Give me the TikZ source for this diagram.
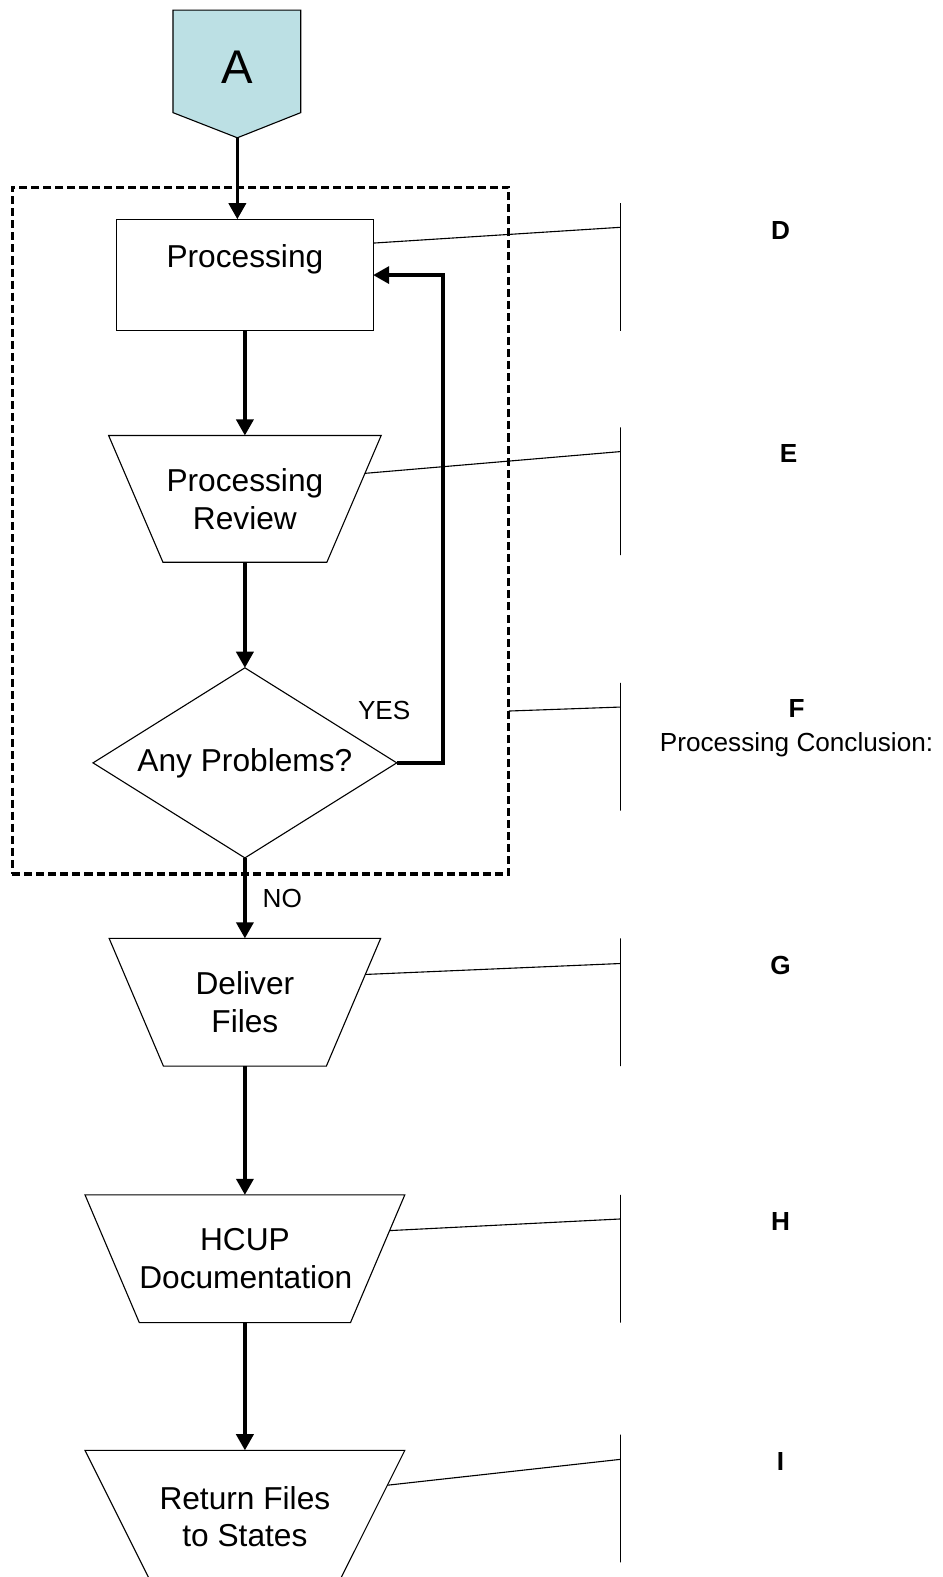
\documentclass[tikz,border=0pt]{standalone}
\usepackage{fontspec}
\setmainfont{Liberation Sans}
\usetikzlibrary{arrows.meta,shapes.geometric,positioning}
\definecolor{offpage}{RGB}{188,224,228}
\tikzstyle{every picture}+=[
  x=1pt,y=-1pt,
  bignode/.style={font=\fontsize{31.5}{37.5}\selectfont,align=center,inner sep=0pt,outer sep=0pt,line width=1.1pt},
  boxnode/.style={bignode,draw,shape=rectangle,minimum width=255pt,minimum height=111pt},
  trapnode/.style={font=\fontsize{31.5}{37.5}\selectfont,inner sep=0pt,outer sep=0pt,line width=1.1pt,draw,shape=trapezium,shape border rotate=180},
  asknode/.style={bignode,draw,shape=diamond,aspect=1.6,minimum width=302pt,minimum height=189pt},
  groupnode/.style={draw,shape=rectangle,line width=3pt,dash pattern=on 8pt off 4pt,minimum width=494pt,minimum height=683pt,outer sep=0pt},
  barnode/.style={draw,shape=rectangle,line width=1.1pt,minimum width=0pt,minimum height=127pt,inner sep=0pt},
  letter/.style={font=\bfseries\fontsize{26}{33}\selectfont,align=center,inner sep=0pt},
  small/.style={font=\fontsize{26}{31}\selectfont,inner sep=0pt},
  flow/.style={line width=3.4pt,-{Triangle[length=16pt,width=17pt]}},
  note/.style={line width=1.1pt}
]
\newcommand*{\traptext}[3]{\parbox[c][#1][c]{#2}{\centering #3}}
\def\barx{617}

\begin{document}
\begin{tikzpicture}
      \useasboundingbox (0,0) rectangle (937,1568);
      % off page connector
      \draw[fill=offpage,line width=1.1pt] (172,10) -- (299,10) -- (299,112) -- (236,137) -- (172,112) -- cycle;
      \node[font=\fontsize{47}{56}\selectfont,inner sep=0pt] (A) at (236,67) {A};
      \coordinate (Atip) at (236,137);
      %
      \node[style=groupnode] (grp) at (259,527.5) {};
      \node[style=boxnode] (proc) at (243.5,273.5) {Processing\\\mbox{}};
      \node[style=trapnode,trapezium angle=66.8,below = 104pt of proc] (rev) {\traptext{126pt}{163pt}{Processing\\Review}};
      \node[style=asknode,below = 105pt of rev] (prob) {Any Problems?};
      \node[style=trapnode,trapezium angle=66.97,below = 80pt of prob] (del) {\traptext{127pt}{162pt}{Deliver\\Files}};
      \node[style=trapnode,trapezium angle=66.97,below = 128pt of del] (doc) {\traptext{127pt}{210pt}{HCUP\\Documentation}};
      \node[style=trapnode,trapezium angle=63.43,below = 127pt of doc] (ret) {\traptext{140pt}{178pt}{\vspace*{-8pt}Return Files\\to States}};
      %
      \path [draw, flow] (Atip) to (Atip |- proc.north);
      \path [draw, flow] (proc.south) to (rev.north);
      \path [draw, flow] (rev.south) to (prob.north);
      \path [draw, flow] (prob.south) to node[style=small,right = 16pt] (no) {NO} (del.north);
      \path [draw, flow] (prob.east) -- ++(46,0) |- (proc.east);
      \path [draw, flow] (del.south) to (doc.north);
      \path [draw, flow] (doc.south) to (ret.north);
      \node[style=small] (yes) at (382,706) {YES};
      %
      \node[style=barnode] (bD) at (\barx,265.5) {};
      \node[style=barnode] (bE) at (\barx,488.5) {};
      \node[style=barnode] (bF) at (\barx,742.5) {};
      \node[style=barnode] (bG) at (\barx,996.5) {};
      \node[style=barnode] (bH) at (\barx,1251.5) {};
      \node[style=barnode] (bI) at (\barx,1490) {};
      \coordinate (tD) at (\barx,226);
      \coordinate (tE) at (\barx,449);
      \coordinate (tF) at (\barx,703);
      \coordinate (tG) at (\barx,958);
      \coordinate (tH) at (\barx,1212);
      \coordinate (tI) at (\barx,1451);
      %
      \path [draw, note] (proc.14) to (tD);
      \path [draw, note] (rev.12) to (tE);
      \path [draw, note] (grp.-36.2) to (tF);
      \path [draw, note] (del.13) to (tG);
      \path [draw, note] (doc.11) to (tH);
      \path [draw, note] (ret.14) to (tI);
      %
      \node[style=letter] (D) at (776,229) {D};
      \node[style=letter] (E) at (784,451) {E};
      \node[style=letter] (F) at (792,724) {F\\{\mdseries Processing Conclusion:}};
      \node[style=letter] (G) at (776,960) {G};
      \node[style=letter] (H) at (776,1215) {H};
      \node[style=letter] (I) at (776,1453) {I};
      %
    \end{tikzpicture}
\end{document}
